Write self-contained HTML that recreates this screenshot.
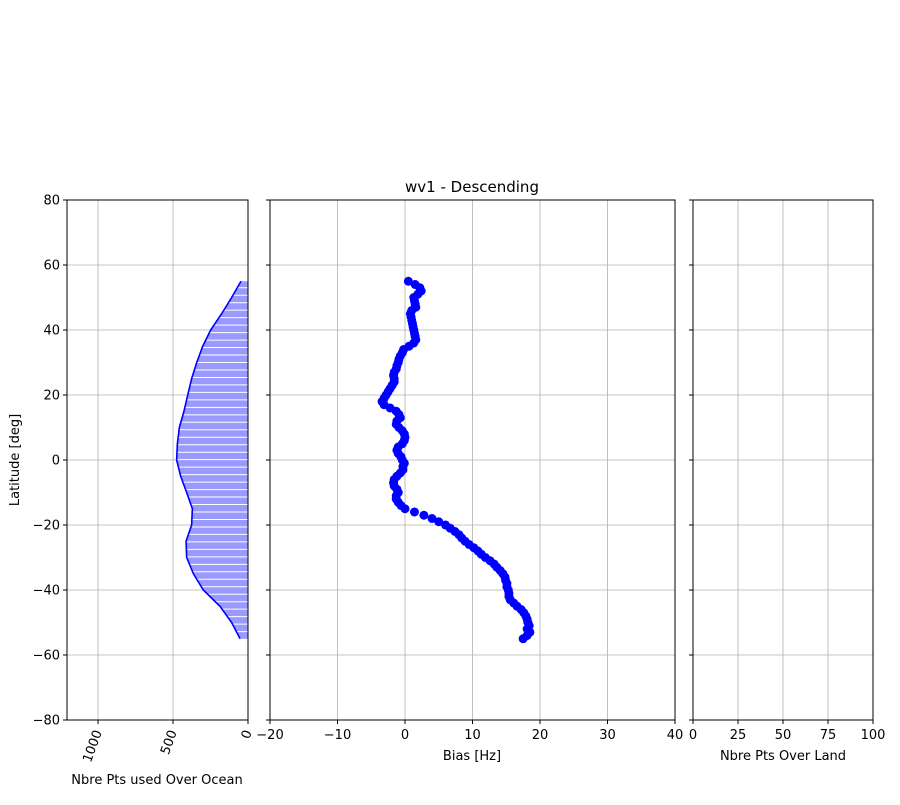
<!DOCTYPE html>
<html><head><meta charset="utf-8"><style>
body{margin:0;background:#fff;}
svg text{font-family:"DejaVu Sans","Liberation Sans",sans-serif;font-size:13px;fill:#000;}
</style></head><body>
<svg id="chart" width="900" height="800" xmlns="http://www.w3.org/2000/svg"></svg>
<script>
const yTicks=[80,60,40,20,0,-20,-40,-60,-80];
const oceanLat=[55,50,45,40,35,30,25,20,15,10,5,0,-5,-10,-15,-20,-25,-30,-35,-40,-45,-50,-55];
const oceanCount=[47,109,176,249,302,342,376,402,427,458,471,476,449,409,371,376,413,409,364,298,187,109,53];
const oceanTicks=[1000,500,0];
const biasLat=[55,54,53,52,51,50,49,48,47,46,45,44,43,42,41,40,39,38,37,36,35,34,33,32,31,30,29,28,27,26,25,24,23,22,21,20,19,18,17,16,15,14,13,12,11,10,9,8,7,6,5,4,3,2,1,0,-1,-2,-3,-4,-5,-6,-7,-8,-9,-10,-11,-12,-13,-14,-15,-16,-17,-18,-19,-20,-21,-22,-23,-24,-25,-26,-27,-28,-29,-30,-31,-32,-33,-34,-35,-36,-37,-38,-39,-40,-41,-42,-43,-44,-45,-46,-47,-48,-49,-50,-51,-52,-53,-54,-55];
const biasVal=[0.5,1.5,2.2,2.4,1.9,1.3,1.4,1.5,1.6,1.0,0.8,0.9,1.0,1.1,1.2,1.3,1.4,1.5,1.6,1.3,0.6,-0.2,-0.4,-0.7,-0.9,-1.0,-1.2,-1.3,-1.6,-1.7,-1.6,-1.6,-1.9,-2.2,-2.5,-2.8,-3.1,-3.4,-3.1,-2.2,-1.3,-0.9,-0.7,-1.2,-1.3,-0.9,-0.4,-0.1,0.0,-0.1,-0.4,-1.0,-1.2,-1.0,-0.6,-0.4,-0.1,-0.3,-0.3,-0.7,-1.2,-1.6,-1.7,-1.6,-1.2,-1.0,-1.3,-1.3,-1.0,-0.6,0.0,1.4,2.8,4.0,5.0,6.0,6.7,7.4,8.0,8.4,8.9,9.5,10.2,10.8,11.3,11.9,12.6,13.2,13.6,14.1,14.5,14.8,14.9,15.1,15.1,15.3,15.4,15.4,15.6,16.1,16.6,17.2,17.6,17.9,18.1,18.2,18.4,18.1,18.5,18.1,17.5];
const biasTicks=[-20,-10,0,10,20,30,40];
const landTicks=[0,25,50,75,100];

const svg=document.getElementById('chart');
const NS='http://www.w3.org/2000/svg';
function el(tag,attrs,parent){const e=document.createElementNS(NS,tag);for(const k in attrs)e.setAttribute(k,attrs[k]);(parent||svg).appendChild(e);return e;}
const yTop=200,yBot=720;
const yS=v=>yTop+(80-v)*(yBot-yTop)/160;
const panels=[
 {name:'ocean',x0:67,x1:248,min:1207,max:0,ticks:oceanTicks},
 {name:'bias',x0:270,x1:675,min:-20,max:40,ticks:biasTicks},
 {name:'land',x0:693,x1:873,min:0,max:100,ticks:landTicks}];
panels.forEach(p=>{p.s=v=>p.x0+(v-p.min)*(p.x1-p.x0)/(p.max-p.min);});
panels.forEach(p=>{
 const g=el('g',{});
 
 
 p.ticks.forEach(t=>{const x=p.s(t);if(x>p.x0+0.5&&x<p.x1-0.5)el('line',{x1:x,x2:x,y1:yTop,y2:yBot,stroke:'#b0b0b0','stroke-width':0.8},g);});
 yTicks.forEach(t=>{const y=yS(t);if(y>yTop+0.5&&y<yBot-0.5)el('line',{x1:p.x0,x2:p.x1,y1:y,y2:y,stroke:'#b0b0b0','stroke-width':0.8},g);});
});
const po=panels[0];
const pts=oceanLat.map((l,i)=>po.s(oceanCount[i])+','+yS(l));
const polyPts=po.s(0)+','+yS(oceanLat[0])+' '+pts.join(' ')+' '+po.s(0)+','+yS(oceanLat[oceanLat.length-1]);
const clip=el('clipPath',{id:'oc'});
el('polygon',{points:polyPts},clip);
const area=el('polygon',{points:polyPts,fill:'#9999ff',stroke:'none'});


const gaps=el('g',{'clip-path':'url(#oc)'});


for(let l=53;l>-55;l-=2.3){el('line',{x1:150,x2:po.s(0),y1:yS(l),y2:yS(l),stroke:'#fff','stroke-width':1},gaps);}
const oline=el('polyline',{points:pts.join(' '),fill:'none',stroke:'#0000ff','stroke-width':1.6});


const pb=panels[1];
biasLat.forEach((l,i)=>{
 const c=el('circle',{cx:pb.s(biasVal[i]),cy:yS(l),r:4.5,fill:'#0000ff'});
 
 
});
panels.forEach((p,pi)=>{
 const f=el('rect',{x:p.x0,y:yTop,width:p.x1-p.x0,height:yBot-yTop,fill:'none',stroke:'#000','stroke-width':1});
 
 
 p.ticks.forEach(t=>{
  const x=p.s(t);
  el('line',{x1:x,x2:x,y1:yBot,y2:yBot+4,stroke:'#000'});
  let tx;
  if(pi===0){tx=el('text',{x:x+4,y:yBot+12,'text-anchor':'end',transform:'rotate(-70 '+(x+4)+' '+(yBot+12)+')'});tx.textContent=t;}
  else{tx=el('text',{x:x,y:yBot+19,'text-anchor':'middle'});tx.textContent=String(t).replace('-','\u2212');}
  
  
 });
 yTicks.forEach(t=>{
  const y=yS(t);
  el('line',{x1:p.x0-4,x2:p.x0,y1:y,y2:y,stroke:'#000'});
  if(pi===0){const tx=el('text',{x:p.x0-7,y:y+4.5,'text-anchor':'end'});tx.textContent=String(t).replace('-','\u2212');
   
   }
 });
});
function lab(txt,x,y,name,extra){const t=el('text',Object.assign({x:x,y:y,'text-anchor':'middle'},extra||{}));t.textContent=txt;return t;}
lab('Nbre Pts used Over Ocean',157,784,'ocean-x-axis-title');
lab('Bias [Hz]',472,760,'bias-x-axis-title');
lab('Nbre Pts Over Land',783,760,'land-x-axis-title');
lab('Latitude [deg]',19,460,'y-axis-title',{transform:'rotate(-90 19 460)'});
lab('wv1 - Descending',472,192,'chart-title',{style:'font-size:15px'});
</script>
</body></html>
